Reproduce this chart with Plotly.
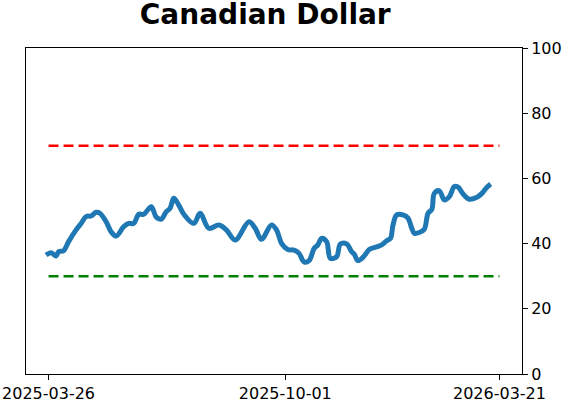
import plotly.graph_objects as go

dates = [
    "2025-03-24", "2025-03-28", "2025-04-01", "2025-04-03", "2025-04-07", "2025-04-11",
    "2025-04-17", "2025-04-21", "2025-04-25", "2025-04-29", "2025-05-03", "2025-05-06",
    "2025-05-11", "2025-05-15", "2025-05-19", "2025-05-25", "2025-05-29", "2025-06-02",
    "2025-06-06", "2025-06-10", "2025-06-16", "2025-06-20", "2025-06-24", "2025-06-28",
    "2025-07-01", "2025-07-04", "2025-07-08", "2025-07-12", "2025-07-20", "2025-07-25",
    "2025-08-01", "2025-08-09", "2025-08-15", "2025-08-22", "2025-09-02", "2025-09-07",
    "2025-09-12", "2025-09-20", "2025-09-24", "2025-09-28", "2025-10-03", "2025-10-08",
    "2025-10-12", "2025-10-16", "2025-10-20", "2025-10-24", "2025-10-27", "2025-10-30",
    "2025-11-03", "2025-11-06", "2025-11-11", "2025-11-14", "2025-11-19", "2025-11-23",
    "2025-11-25", "2025-11-28", "2025-12-03", "2025-12-07", "2025-12-13", "2025-12-17",
    "2025-12-21", "2025-12-24", "2025-12-26", "2025-12-29", "2026-01-03", "2026-01-07",
    "2026-01-10", "2026-01-12", "2026-01-16", "2026-01-20", "2026-01-23", "2026-01-26",
    "2026-01-28", "2026-02-01", "2026-02-05", "2026-02-09", "2026-02-13", "2026-02-16",
    "2026-02-20", "2026-02-25", "2026-03-03", "2026-03-07", "2026-03-11", "2026-03-14",
]
values = [
    36.5, 37.2, 36.2, 37.5, 37.8, 40.6,
    44.2, 46.2, 48.3, 48.5, 49.6, 49.3,
    46.7, 43.6, 42.3, 45.2, 46.2, 46.2,
    49.0, 49.0, 51.3, 48.1, 47.5, 49.8,
    50.8, 53.9, 51.8, 49.0, 46.2, 49.3,
    44.7, 45.7, 44.2, 41.1, 46.7, 44.7,
    41.3, 45.7, 44.2, 40.1, 38.2, 38.0,
    37.0, 34.4, 34.8, 38.5, 39.6, 41.6,
    40.6, 35.5, 36.0, 39.9, 39.9, 37.5,
    36.8, 34.8, 36.2, 38.2, 39.0, 39.6,
    40.9, 41.6, 45.7, 48.8, 48.8, 47.8,
    44.7, 43.2, 43.4, 44.4, 49.3, 50.5,
    55.4, 56.2, 53.4, 54.4, 57.5, 57.3,
    55.2, 53.6, 54.2, 55.4, 57.3, 58.3,
]

band_start = "2025-03-26"
band_end = "2026-03-21"
upper_level = 70
lower_level = 30
tick_dates = ["2025-03-26", "2025-10-01", "2026-03-21"]

fig = go.Figure()
fig.add_trace(go.Scatter(x=dates, y=values, mode="lines",
                         line=dict(color="#1f77b4", width=5), line_shape="spline"))
fig.add_trace(go.Scatter(x=[band_start, band_end], y=[upper_level, upper_level], mode="lines",
                         line=dict(color="#ff0000", width=2.5, dash="10px,5px")))
fig.add_trace(go.Scatter(x=[band_start, band_end], y=[lower_level, lower_level], mode="lines",
                         line=dict(color="#008000", width=2.5, dash="10px,5px")))

fig.update_layout(
    width=562, height=402,
    margin=dict(l=26, r=40, t=48, b=28),
    showlegend=False,
    plot_bgcolor="white", paper_bgcolor="white",
    font=dict(family="DejaVu Sans", size=16, color="black"),
    title=dict(text="<b>Canadian Dollar</b>", x=0.472, xref="container", xanchor="center",
               y=1 - 14 / 402, yref="container", yanchor="middle", font=dict(size=28)),
)
fig.update_xaxes(
    type="date", range=["2025-03-08", "2026-04-08"], automargin=False,
    tickvals=tick_dates, ticktext=tick_dates,
    showgrid=False, zeroline=False,
    showline=True, linecolor="black", linewidth=1, mirror=True,
    ticks="outside", ticklen=5, tickcolor="black",
)
fig.update_yaxes(
    range=[0, 100], side="right", tickvals=[0, 20, 40, 60, 80, 100], automargin=False,
    showgrid=False, zeroline=False,
    showline=True, linecolor="black", linewidth=1, mirror=True,
    ticks="outside", ticklen=5, tickcolor="black",
)

# page has a default body margin; drop it so the figure sits at the top-left corner
fig.write_html("out.html", config={"displayModeBar": False},
               post_script="document.body.style.margin='0';")
